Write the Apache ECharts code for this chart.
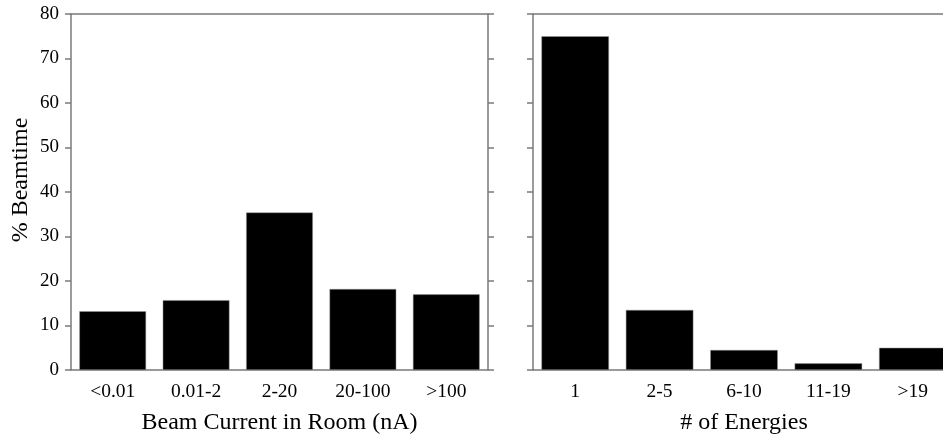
<!DOCTYPE html>
<html>
<head>
<meta charset="utf-8">
<script src="https://cdn.jsdelivr.net/npm/echarts@6/dist/echarts.min.js"></script>
<style>
html,body{margin:0;padding:0;background:#fff;}
#c{width:943px;height:434px;}
</style>
</head>
<body>
<div id="c"></div>
<script>
const currentCats = ['<0.01', '0.01-2', '2-20', '20-100', '>100'];
const currentVals = [13.2, 15.7, 35.4, 18.2, 17.0];
const energyCats = ['1', '2-5', '6-10', '11-19', '>19'];
const energyVals = [75.0, 13.5, 4.5, 1.5, 5.0];
const yTicks = [0, 10, 20, 30, 40, 50, 60, 70, 80];

const FONT = 'Liberation Serif';
const AX = '#7a7a7a';
const lineStyle = { color: AX, width: 1.5 };

function yAx(grid, pos, showLabels, name) {
  return {
    type: 'value', gridIndex: grid, position: pos,
    min: yTicks[0], max: yTicks[yTicks.length - 1], interval: yTicks[1] - yTicks[0],
    name: name || '', nameLocation: 'middle', nameGap: 38,
    nameTextStyle: { fontFamily: FONT, fontSize: 24, color: '#000', padding: [0, 0, 0, 24] },
    axisLine: { show: true, lineStyle: lineStyle },
    axisTick: { show: true, inside: false, length: 6, lineStyle: lineStyle },
    axisLabel: { show: showLabels, fontFamily: FONT, fontSize: 19, color: '#000', margin: 12 },
    splitLine: { show: false }
  };
}
function xAx(grid, pos, cats, name) {
  return {
    type: 'category', gridIndex: grid, position: pos, data: cats,
    name: name || '', nameLocation: 'middle', nameGap: 41,
    nameTextStyle: { fontFamily: FONT, fontSize: 24, color: '#000' },
    axisLine: { show: true, onZero: false, lineStyle: lineStyle },
    axisTick: { show: false },
    axisLabel: { show: pos === 'bottom', fontFamily: FONT, fontSize: 19.5, color: '#000', margin: 12 },
    splitLine: { show: false }
  };
}

const chart = echarts.init(document.getElementById('c'), null, { renderer: 'canvas' });
chart.setOption({
  animation: false,
  backgroundColor: '#fff',
  grid: [
    { left: 71, top: 14, width: 417, height: 356, outerBoundsMode: 'none', containLabel: false },
    { left: 533, top: 14, width: 422, height: 356, outerBoundsMode: 'none', containLabel: false }
  ],
  xAxis: [
    xAx(0, 'bottom', currentCats, 'Beam Current in Room (nA)'),
    xAx(0, 'top', currentCats),
    xAx(1, 'bottom', energyCats, '# of Energies'),
    xAx(1, 'top', energyCats)
  ],
  yAxis: [
    yAx(0, 'left', true, '% Beamtime'),
    yAx(0, 'right', false),
    yAx(1, 'left', false),
    yAx(1, 'right', false)
  ],
  series: [
    {
      type: 'bar', xAxisIndex: 0, yAxisIndex: 0, data: currentVals,
      barCategoryGap: '20%', itemStyle: { color: '#000', borderColor: '#999', borderWidth: 0.5 }
    },
    {
      type: 'bar', xAxisIndex: 2, yAxisIndex: 2, data: energyVals,
      barCategoryGap: '20%', itemStyle: { color: '#000', borderColor: '#999', borderWidth: 0.5 }
    }
  ]
});
</script>
</body>
</html>
